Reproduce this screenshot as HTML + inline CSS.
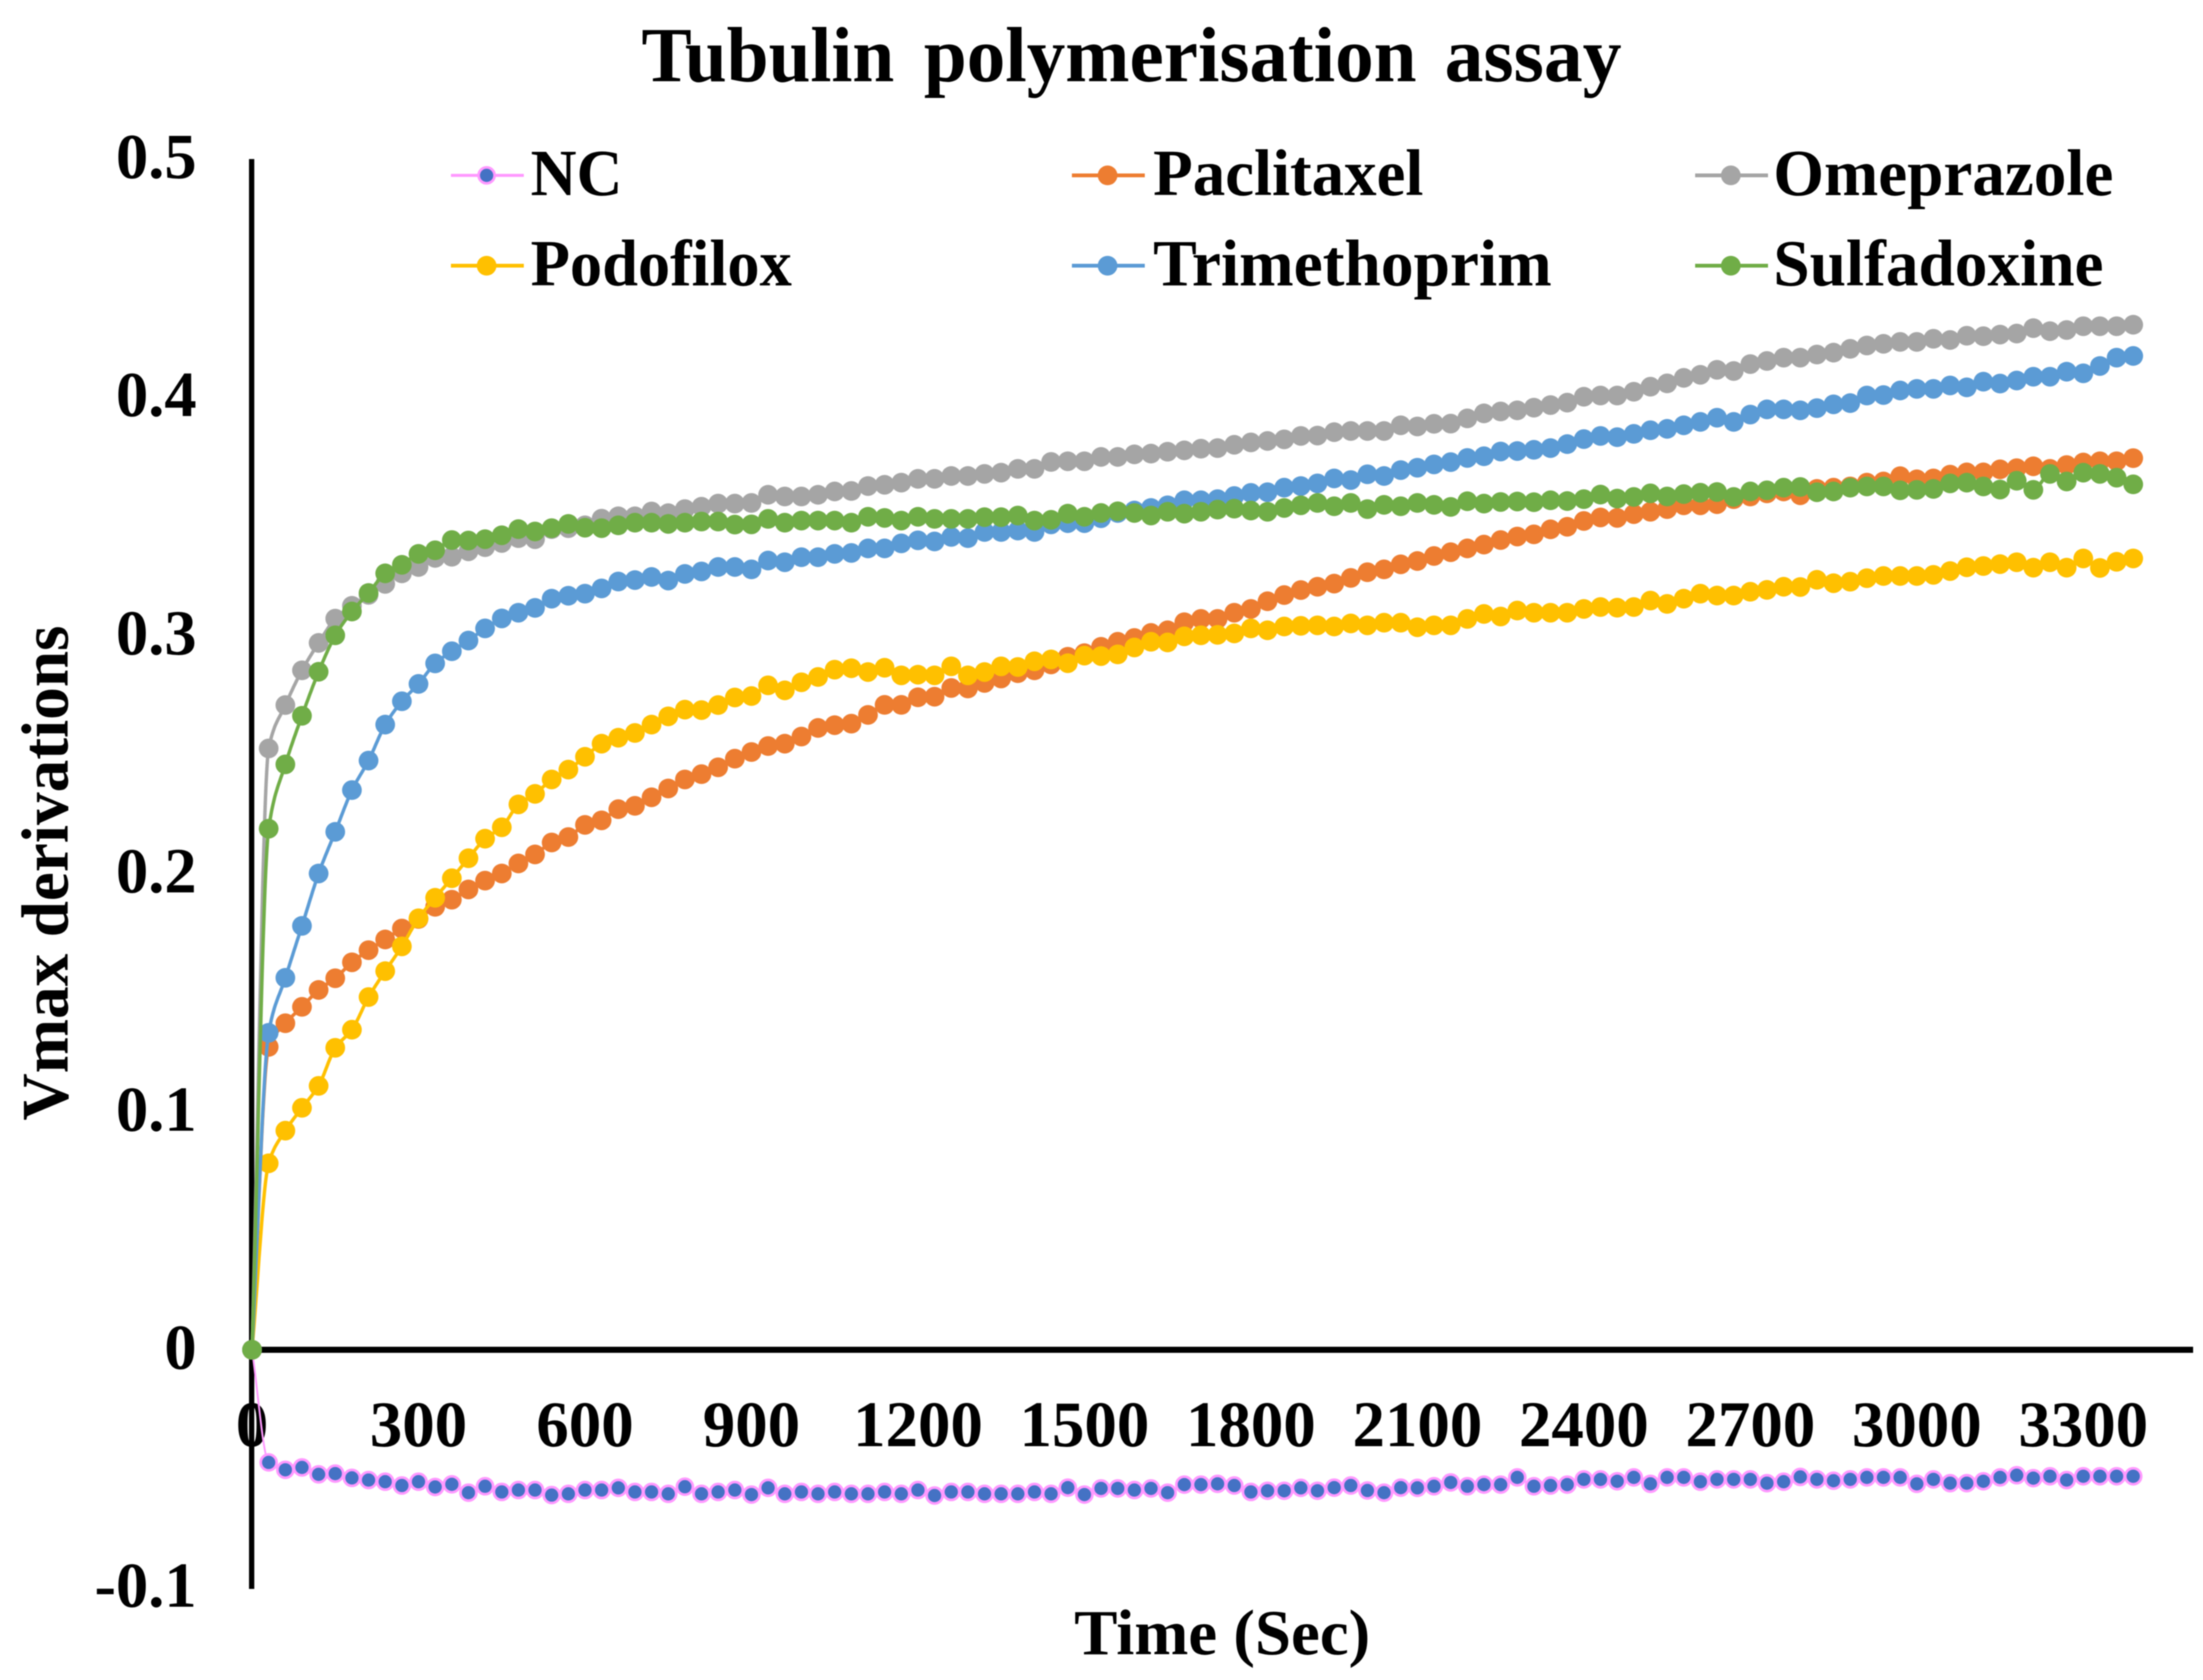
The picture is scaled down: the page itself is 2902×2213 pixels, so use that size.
<!DOCTYPE html>
<html lang="en">
<head>
<meta charset="utf-8">
<title>Tubulin polymerisation assay</title>
<style>
html,body{margin:0;padding:0;background:#fff;}
body{width:2902px;height:2213px;overflow:hidden;}
svg{display:block;filter:blur(0.7px);}
text{font-family:"Liberation Serif","Times New Roman",serif;font-weight:bold;fill:#000;}
</style>
</head>
<body>
<svg id="chart" xmlns="http://www.w3.org/2000/svg" width="2902" height="2213" viewBox="0 0 2902 2213">
  <rect width="2902" height="2213" fill="#ffffff"/>
  <text y="107" font-size="103"><tspan x="845" textLength="333" lengthAdjust="spacingAndGlyphs">Tubulin</tspan> <tspan x="1217" textLength="649" lengthAdjust="spacingAndGlyphs">polymerisation</tspan> <tspan x="1903" textLength="233" lengthAdjust="spacingAndGlyphs">assay</tspan></text>
  <text x="1415" y="2179" font-size="85" textLength="390" lengthAdjust="spacingAndGlyphs">Time (Sec)</text>
  <text transform="translate(89,1476) rotate(-90)" font-size="88" textLength="652" lengthAdjust="spacingAndGlyphs">Vmax derivations</text>
  <g id="axes"></g>
  <g id="series"></g>
  <g id="legend"></g>
</svg>
<script>
const timeStep = 30;
const xTickLabels = [0,300,600,900,1200,1500,1800,2100,2400,2700,3000,3300];
const yTickLabels = [0.5,0.4,0.3,0.2,0.1,0,-0.1];
const seriesNames = ["NC","Paclitaxel","Omeprazole","Podofilox","Trimethoprim","Sulfadoxine"];

const ncValues = [0,
-.0473,-.0504,-.0494,-.0523,-.0520,-.0538,-.0547,-.0554,-.0570,-.0554,
-.0576,-.0565,-.0600,-.0573,-.0597,-.0589,-.0589,-.0610,-.0605,-.0589,
-.0589,-.0580,-.0597,-.0597,-.0605,-.0575,-.0605,-.0597,-.0589,-.0608,
-.0580,-.0605,-.0597,-.0605,-.0597,-.0605,-.0605,-.0597,-.0605,-.0589,
-.0612,-.0597,-.0597,-.0605,-.0605,-.0605,-.0597,-.0605,-.0579,-.0608,
-.0582,-.0582,-.0589,-.0582,-.0600,-.0566,-.0566,-.0563,-.0570,-.0597,
-.0592,-.0592,-.0580,-.0592,-.0579,-.0570,-.0591,-.0600,-.0579,-.0580,
-.0573,-.0557,-.0573,-.0566,-.0566,-.0536,-.0573,-.0570,-.0566,-.0544,
-.0544,-.0552,-.0536,-.0563,-.0536,-.0536,-.0554,-.0544,-.0544,-.0544,
-.0560,-.0554,-.0534,-.0544,-.0550,-.0544,-.0536,-.0536,-.0536,-.0563,
-.0544,-.0560,-.0560,-.0552,-.0536,-.0527,-.0539,-.0531,-.0547,-.0531,
-.0531,-.0531,-.0531];

const paclitaxelValues = [0,
.1272,.1371,.1440,.1511,.1560,.1627,.1678,.1723,.1769,.1809,
.1860,.1890,.1933,.1970,.2000,.2042,.2080,.2130,.2153,.2204,
.2223,.2270,.2284,.2320,.2357,.2395,.2417,.2446,.2482,.2510,
.2535,.2545,.2575,.2611,.2623,.2629,.2666,.2708,.2708,.2740,
.2742,.2779,.2777,.2800,.2819,.2841,.2853,.2878,.2910,.2925,
.2952,.2973,.2989,.3010,.3021,.3055,.3069,.3069,.3095,.3111,
.3143,.3169,.3190,.3204,.3217,.3241,.3265,.3277,.3298,.3312,
.3333,.3349,.3365,.3381,.3400,.3415,.3424,.3445,.3456,.3480,
.3495,.3493,.3509,.3519,.3530,.3546,.3546,.3551,.3572,.3583,
.3596,.3604,.3588,.3615,.3620,.3625,.3641,.3646,.3668,.3655,
.3659,.3675,.3684,.3684,.3697,.3702,.3710,.3699,.3715,.3726,
.3731,.3731,.3744];

const omeprazoleValues = [0,
.2525,.2707,.2853,.2968,.3070,.3124,.3170,.3216,.3260,.3287,
.3325,.3330,.3353,.3370,.3388,.3408,.3404,.3446,.3450,.3462,
.3490,.3500,.3500,.3520,.3513,.3530,.3540,.3553,.3553,.3556,
.3590,.3583,.3583,.3590,.3604,.3606,.3627,.3632,.3641,.3657,
.3657,.3669,.3669,.3678,.3683,.3699,.3699,.3728,.3731,.3731,
.3749,.3749,.3760,.3763,.3771,.3777,.3784,.3786,.3800,.3810,
.3816,.3823,.3837,.3839,.3853,.3858,.3858,.3858,.3882,.3877,
.3888,.3889,.3911,.3932,.3940,.3945,.3956,.3967,.3977,.4002,
.4007,.4007,.4023,.4044,.4058,.4081,.4094,.4115,.4110,.4139,
.4152,.4166,.4166,.4179,.4187,.4203,.4217,.4224,.4232,.4232,
.4245,.4240,.4258,.4256,.4263,.4267,.4290,.4277,.4282,.4298,
.4298,.4298,.4304];

const podofiloxValues = [0,
.0783,.0920,.1016,.1108,.1268,.1344,.1481,.1590,.1694,.1812,
.1898,.1980,.2064,.2146,.2194,.2290,.2334,.2395,.2436,.2490,
.2545,.2570,.2590,.2625,.2660,.2688,.2686,.2707,.2739,.2745,
.2790,.2769,.2803,.2825,.2856,.2862,.2846,.2864,.2832,.2835,
.2832,.2870,.2832,.2846,.2870,.2867,.2891,.2899,.2883,.2915,
.2913,.2920,.2949,.2973,.2970,.2996,.3000,.3002,.3008,.3029,
.3021,.3037,.3040,.3042,.3037,.3050,.3042,.3053,.3053,.3034,
.3042,.3042,.3069,.3090,.3079,.3104,.3095,.3095,.3095,.3111,
.3119,.3116,.3119,.3146,.3132,.3154,.3175,.3167,.3167,.3183,
.3191,.3204,.3203,.3233,.3219,.3225,.3240,.3249,.3249,.3249,
.3254,.3270,.3286,.3291,.3299,.3307,.3284,.3307,.3284,.3323,
.3283,.3309,.3323];

const trimethoprimValues = [0,
.1331,.1562,.1780,.2000,.2175,.2350,.2474,.2625,.2723,.2796,
.2882,.2933,.2978,.3029,.3071,.3095,.3115,.3154,.3166,.3175,
.3197,.3226,.3232,.3245,.3230,.3258,.3268,.3287,.3287,.3277,
.3314,.3307,.3328,.3328,.3342,.3346,.3365,.3365,.3386,.3399,
.3394,.3413,.3408,.3434,.3434,.3440,.3434,.3466,.3471,.3471,
.3492,.3514,.3524,.3535,.3546,.3567,.3567,.3572,.3585,.3598,
.3601,.3620,.3627,.3638,.3659,.3652,.3676,.3669,.3694,.3704,
.3718,.3727,.3745,.3752,.3772,.3774,.3779,.3786,.3803,.3824,
.3837,.3832,.3846,.3861,.3867,.3882,.3896,.3914,.3896,.3927,
.3949,.3949,.3945,.3954,.3970,.3975,.4007,.4009,.4028,.4035,
.4035,.4049,.4041,.4065,.4057,.4070,.4086,.4086,.4107,.4100,
.4131,.4166,.4173];

const sulfadoxineValues = [0,
.2188,.2458,.2662,.2847,.3000,.3100,.3178,.3260,.3296,.3342,
.3357,.3400,.3398,.3404,.3420,.3446,.3436,.3450,.3468,.3452,
.3450,.3462,.3473,.3473,.3468,.3473,.3478,.3478,.3465,.3466,
.3489,.3473,.3482,.3482,.3482,.3473,.3498,.3493,.3482,.3498,
.3489,.3489,.3489,.3496,.3496,.3503,.3482,.3485,.3511,.3498,
.3514,.3521,.3514,.3503,.3519,.3511,.3519,.3528,.3532,.3524,
.3519,.3535,.3546,.3556,.3542,.3556,.3530,.3548,.3542,.3556,
.3548,.3539,.3563,.3553,.3560,.3562,.3559,.3567,.3564,.3572,
.3591,.3574,.3581,.3596,.3583,.3593,.3599,.3602,.3581,.3604,
.3609,.3620,.3623,.3601,.3604,.3620,.3625,.3625,.3609,.3611,
.3615,.3638,.3641,.3625,.3612,.3649,.3611,.3678,.3646,.3683,
.3678,.3662,.3634];

const SVGNS = "http://www.w3.org/2000/svg";
const xScale = t => 332 + t * 0.731;
const yScale = v => 1778 - v * 3137;
const seriesData = [ncValues, paclitaxelValues, omeprazoleValues, podofiloxValues, trimethoprimValues, sulfadoxineValues];
const seriesStyle = [
  {line:"#ff99ff", fill:"#4472c4", stroke:"#ff99ff", lw:2.5, r:10.5, sw:3.5},
  {line:"#ed7d31", fill:"#ed7d31", stroke:"none", lw:4.5, r:13, sw:0},
  {line:"#a5a5a5", fill:"#a5a5a5", stroke:"none", lw:4.5, r:13, sw:0},
  {line:"#ffc000", fill:"#ffc000", stroke:"none", lw:4.5, r:13, sw:0},
  {line:"#5b9bd5", fill:"#5b9bd5", stroke:"none", lw:4.5, r:13, sw:0},
  {line:"#70ad47", fill:"#70ad47", stroke:"none", lw:4.5, r:13, sw:0}
];
const slug = s => s.toLowerCase();
function make(tag, attrs, parent){
  const el = document.createElementNS(SVGNS, tag);
  for (const k in attrs) el.setAttribute(k, attrs[k]);
  parent.appendChild(el);
  return el;
}
function smoothPath(pts){
  const n = pts.length, seg = [], tan = [];
  for (let i = 0; i < n - 1; i++) seg.push((pts[i+1][1]-pts[i][1])/(pts[i+1][0]-pts[i][0]));
  tan[0] = seg[0];
  tan[n-1] = seg[n-2];
  for (let i = 1; i < n - 1; i++){
    tan[i] = seg[i-1]*seg[i] <= 0 ? 0 : 2*seg[i-1]*seg[i]/(seg[i-1]+seg[i]);
  }
  let d = "M" + pts[0][0].toFixed(1) + " " + pts[0][1].toFixed(1);
  for (let i = 0; i < n - 1; i++){
    const dx = (pts[i+1][0]-pts[i][0])/3;
    d += "C" + (pts[i][0]+dx).toFixed(1) + " " + (pts[i][1]+tan[i]*dx).toFixed(1) + " " + (pts[i+1][0]-dx).toFixed(1) + " " + (pts[i+1][1]-tan[i+1]*dx).toFixed(1) + " " + pts[i+1][0].toFixed(1) + " " + pts[i+1][1].toFixed(1);
  }
  return d;
}

const axes = document.getElementById("axes");
const yAxisLine = make("line", {x1:331.5, x2:331.5, y1:yScale(0.5), y2:2093, stroke:"#000", "stroke-width":7}, axes);


const xAxisLine = make("line", {x1:332, x2:2889, y1:yScale(0), y2:yScale(0), stroke:"#000", "stroke-width":8}, axes);



xTickLabels.forEach(t => {
  const el = make("text", {x:xScale(t), y:1905, "font-size":85.5, "text-anchor":"middle"}, axes);
  el.textContent = String(t);
  
  
});
yTickLabels.forEach(v => {
  const el = make("text", {x:259, y:yScale(v)+25, "font-size":85, "text-anchor":"end"}, axes);
  el.textContent = String(v);
  
  
});

const seriesRoot = document.getElementById("series");
seriesData.forEach((vals, s) => {
  const st = seriesStyle[s];
  const g = make("g", {}, seriesRoot);
  
  
  const pts = vals.map((v, i) => [xScale(i * timeStep), yScale(v)]);
  const path = make("path", {d:smoothPath(pts), fill:"none", stroke:st.line, "stroke-width":st.lw, "stroke-linejoin":"round"}, g);
  
  
  pts.forEach(p => {
    const c = make("circle", {cx:p[0].toFixed(1), cy:p[1].toFixed(1), r:st.r, fill:st.fill, stroke:st.stroke, "stroke-width":st.sw}, g);
    
    
  });
});

const legendRoot = document.getElementById("legend");
const legendKeyX = [594, 1412, 2233];
const legendTextX = [699, 1519, 2336];
const legendKeyY = [231, 350];
const legendBaseY = [257, 376];
const legendWidths = [121, 356, 448, 344, 525, 435];
seriesNames.forEach((name, s) => {
  const col = s % 3, row = Math.floor(s / 3), st = seriesStyle[s];
  const g = make("g", {}, legendRoot);
  
  
  const kx = legendKeyX[col], ky = legendKeyY[row];
  make("line", {x1:kx, x2:kx+96, y1:ky, y2:ky, stroke:st.line, "stroke-width":s === 0 ? 4 : 5}, g);
  make("circle", {cx:kx+47, cy:ky, r:s === 0 ? 10.5 : 13, fill:st.fill, stroke:st.stroke, "stroke-width":st.sw}, g);
  const t = make("text", {x:legendTextX[col], y:legendBaseY[row], "font-size":87, textLength:legendWidths[s], lengthAdjust:"spacingAndGlyphs"}, g);
  t.textContent = name;
});
</script>
</body>
</html>
